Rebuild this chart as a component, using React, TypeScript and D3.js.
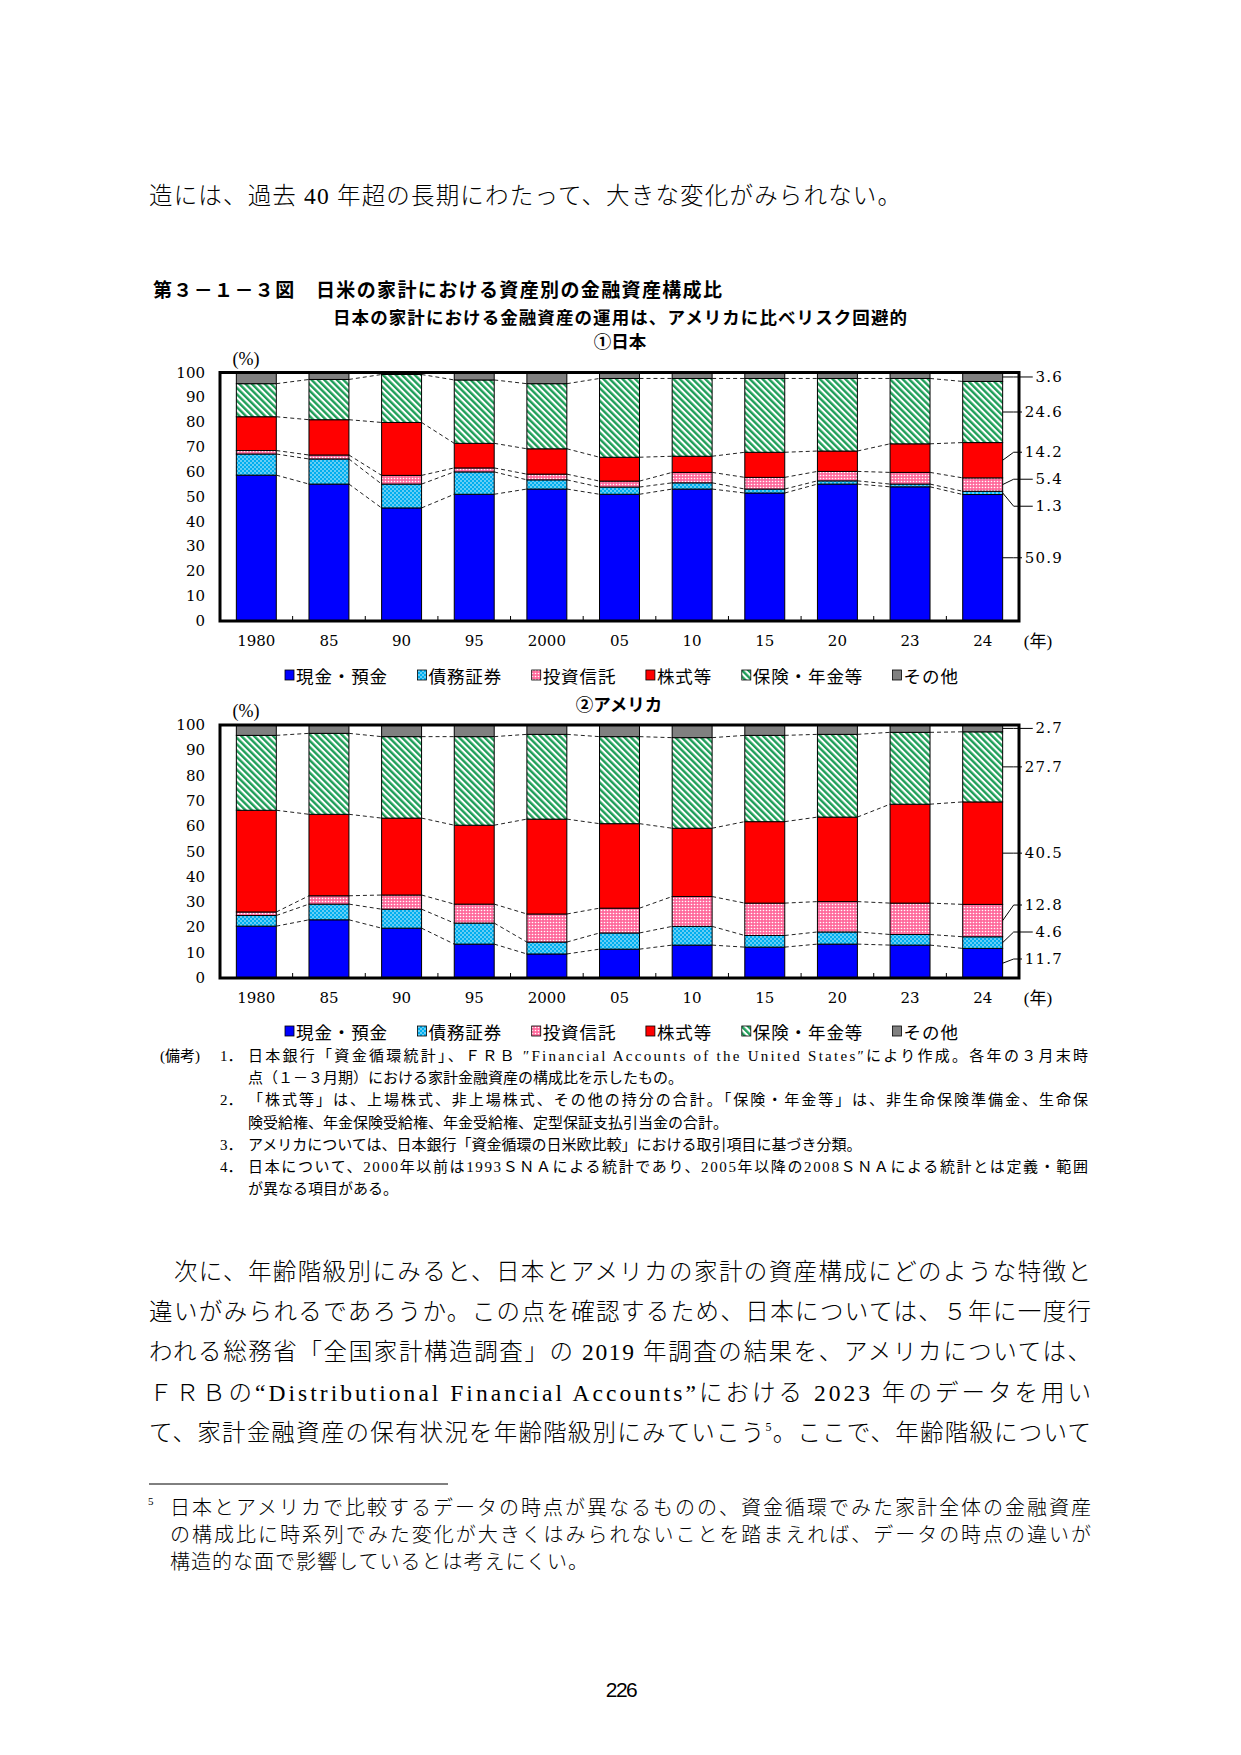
import React from "react";
import * as d3 from "d3";

// ---------- data ----------
const years = ["1980", "85", "90", "95", "2000", "05", "10", "15", "20", "23", "24"];
const seriesNames = ["現金・預金", "債務証券", "投資信託", "株式等", "保険・年金等", "その他"];
const yTicks = [0, 10, 20, 30, 40, 50, 60, 70, 80, 90, 100];

// Japan (%)
const jpCash = [58.7, 55.1, 45.5, 51.0, 53.1, 51.0, 53.1, 51.5, 55.1, 54.0, 50.9];
const jpBonds = [8.5, 10.1, 9.6, 9.0, 3.7, 2.9, 2.5, 1.6, 1.3, 1.1, 1.3];
const jpTrust = [1.4, 1.6, 3.5, 1.6, 2.3, 2.4, 4.2, 4.7, 3.8, 4.7, 5.4];
const jpStocks = [13.6, 14.2, 21.3, 9.9, 10.2, 9.6, 6.5, 10.1, 8.2, 11.5, 14.2];
const jpInsurance = [13.3, 16.2, 19.3, 25.5, 26.2, 31.7, 31.3, 29.7, 29.2, 26.3, 24.6];
const jpOther = [4.5, 2.8, 0.8, 3.0, 4.5, 2.4, 2.4, 2.4, 2.4, 2.4, 3.6];

// United States (%)
const usCash = [20.5, 23.0, 19.7, 13.4, 9.5, 11.4, 13.0, 12.2, 13.4, 13.0, 11.7];
const usBonds = [4.2, 6.2, 7.5, 8.3, 4.7, 6.4, 7.4, 4.6, 4.8, 4.2, 4.6];
const usTrust = [1.4, 3.3, 5.6, 7.5, 11.1, 9.8, 11.8, 12.8, 12.0, 12.4, 12.8];
const usStocks = [40.2, 32.2, 30.4, 31.2, 37.5, 33.4, 27.0, 32.2, 33.4, 39.1, 40.5];
const usInsurance = [29.6, 32.0, 32.2, 35.0, 33.5, 34.4, 35.8, 34.1, 32.7, 28.4, 27.7];
const usOther = [4.1, 3.3, 4.6, 4.6, 3.7, 4.6, 5.0, 4.1, 3.7, 2.9, 2.7];

const jpSeries = [jpCash, jpBonds, jpTrust, jpStocks, jpInsurance, jpOther];
const usSeries = [usCash, usBonds, usTrust, usStocks, usInsurance, usOther];

// ---------- text ----------
const topLine = "造には、過去 40 年超の長期にわたって、大きな変化がみられない。";
const figTitle = "第３－１－３図　日米の家計における資産別の金融資産構成比";
const figSubtitle = "日本の家計における金融資産の運用は、アメリカに比べリスク回避的";
const panelTitles = ["①日本", "②アメリカ"];
const notes = [
  { num: "1．", lines: ["日本銀行「資金循環統計」、ＦＲＢ ″Financial Accounts of the United States″により作成。各年の３月末時", "点（１－３月期）における家計金融資産の構成比を示したもの。"] },
  { num: "2．", lines: ["「株式等」は、上場株式、非上場株式、その他の持分の合計。「保険・年金等」は、非生命保険準備金、生命保", "険受給権、年金保険受給権、年金受給権、定型保証支払引当金の合計。"] },
  { num: "3．", lines: ["アメリカについては、日本銀行「資金循環の日米欧比較」における取引項目に基づき分類。"] },
  { num: "4．", lines: ["日本について、2000年以前は1993ＳＮＡによる統計であり、2005年以降の2008ＳＮＡによる統計とは定義・範囲", "が異なる項目がある。"] },
];
const bodyLines = [
  "　次に、年齢階級別にみると、日本とアメリカの家計の資産構成にどのような特徴と",
  "違いがみられるであろうか。この点を確認するため、日本については、５年に一度行",
  "われる総務省「全国家計構造調査」の 2019 年調査の結果を、アメリカについては、",
  "ＦＲＢの“Distributional Financial Accounts”における 2023 年のデータを用い",
];
const bodyLast = ["て、家計金融資産の保有状況を年齢階級別にみていこう", "5", "。ここで、年齢階級について"];
const footLines = [
  "日本とアメリカで比較するデータの時点が異なるものの、資金循環でみた家計全体の金融資産",
  "の構成比に時系列でみた変化が大きくはみられないことを踏まえれば、データの時点の違いが",
  "構造的な面で影響しているとは考えにくい。",
];

// ---------- style ----------
const JP = "'Noto Sans CJK JP', sans-serif";
const MIX = "'Liberation Serif', 'Noto Sans CJK JP', serif";
const NUM = "'DejaVu Serif', serif";
const fills = ["#0000FF", "url(#patBonds)", "url(#patTrust)", "#FF0000", "url(#patIns)", "#808080"];
const PX0 = 220;
const PX1 = 1019;

function spread(ys: number[], gap: number, lo: number, hi: number): number[] {
  const idx = ys.map((_, i) => i).sort((a, b) => ys[a] - ys[b]);
  const p = idx.map((i) => ys[i]);
  for (let it = 0; it < 400; it++) {
    let moved = false;
    for (let k = 1; k < p.length; k++) {
      const d = p[k] - p[k - 1];
      if (d < gap - 0.01) {
        const s = (gap - d) / 2;
        p[k - 1] -= s;
        p[k] += s;
        moved = true;
      }
    }
    for (let k = 0; k < p.length; k++) p[k] = Math.max(lo, Math.min(hi, p[k]));
    if (!moved) break;
  }
  const out: number[] = new Array(ys.length);
  idx.forEach((i, k) => (out[i] = p[k]));
  return out;
}

function Panel({ series, yTop, yBottom }: { series: number[][]; yTop: number; yBottom: number }) {
  const x = d3.scaleBand<string>().domain(years).range([PX0, PX1]).paddingInner(0.45).paddingOuter(0.225);
  const y = d3.scaleLinear().domain([0, 100]).range([yBottom, yTop]);
  const rows = years.map((yr, i) => ({ yr, vals: series.map((s) => s[i]) }));
  const stack = d3
    .stack<any, string>()
    .keys(seriesNames)
    .value((d: any, key: string) => d.vals[seriesNames.indexOf(key)]);
  const layers = stack(rows);
  const bw = x.bandwidth();
  const step = x.step();
  const last = years.length - 1;
  const lastX = (x(years[last]) as number) + bw;
  const mids = layers.map((l) => y((l[last][0] + l[last][1]) / 2));
  const labelYs = spread(mids, 27, yTop, yBottom - 19);
  const labelRight = 1063;

  return (
    <g>
      {layers.map((layer, k) => (
        <g key={k}>
          {layer.map((d, i) => (
            <rect
              key={i}
              x={x(years[i]) as number}
              y={y(d[1])}
              width={bw}
              height={Math.max(0, y(d[0]) - y(d[1]))}
              fill={fills[k]}
              stroke="#000"
              strokeWidth={1}
            />
          ))}
        </g>
      ))}
      {layers.slice(0, layers.length - 1).map((layer, k) => (
        <g key={"c" + k}>
          {layer.slice(0, last).map((d, i) => (
            <line
              key={i}
              x1={(x(years[i]) as number) + bw}
              y1={y(d[1])}
              x2={x(years[i + 1]) as number}
              y2={y(layer[i + 1][1])}
              stroke="#222"
              strokeWidth={1}
              strokeDasharray="4 3"
            />
          ))}
        </g>
      ))}
      {years.slice(1).map((yr) => {
        const tx = (x(yr) as number) - (step - bw) / 2;
        return <line key={yr} x1={tx} x2={tx} y1={yBottom} y2={yBottom - 5} stroke="#000" strokeWidth={1} />;
      })}
      <rect x={PX0} y={yTop} width={PX1 - PX0} height={yBottom - yTop} fill="none" stroke="#000" strokeWidth={3} />
      {yTicks.map((t) => (
        <text key={t} x={205} y={y(t)} textAnchor="end" dominantBaseline="central" fontFamily={NUM} fontSize={15}>
          {t}
        </text>
      ))}
      <text x={246} y={yTop - 14} textAnchor="middle" dominantBaseline="central" fontFamily={MIX} fontSize={18}>
        (%)
      </text>
      {years.map((yr) => (
        <text
          key={yr}
          x={(x(yr) as number) + bw / 2}
          y={yBottom + 20}
          textAnchor="middle"
          dominantBaseline="central"
          fontFamily={NUM}
          fontSize={15}
        >
          {yr}
        </text>
      ))}
      <text x={1038} y={yBottom + 20} textAnchor="middle" dominantBaseline="central" fontFamily={MIX} fontSize={17}>
        (年)
      </text>
      {layers.map((layer, k) => {
        const v = series[k][last];
        const s = v.toFixed(1);
        const w = (s.length - 1) * 9.54 + 4.77 + (s.length - 1) * 1.2;
        const endX = labelRight - w - 4;
        const ly = labelYs[k];
        return (
          <g key={"l" + k}>
            <path
              d={`M${lastX},${mids[k]} L${lastX + 11},${ly} L${endX},${ly}`}
              fill="none"
              stroke="#000"
              strokeWidth={1}
            />
            <text
              x={labelRight}
              y={ly}
              textAnchor="end"
              dominantBaseline="central"
              fontFamily={NUM}
              fontSize={15}
              letterSpacing={1.2}
            >
              {s}
            </text>
          </g>
        );
      })}
    </g>
  );
}

function Legend({ y }: { y: number }) {
  let cx = 285;
  const items = seriesNames.map((n, i) => {
    const it = { x: cx, n, i };
    cx += 12 + n.length * 18.3 + 29;
    return it;
  });
  return (
    <g>
      {items.map((it) => (
        <g key={it.n}>
          <rect x={it.x} y={y - 5} width={9} height={10} fill={fills[it.i]} stroke="#000" strokeWidth={0.8} />
          <text x={it.x + 11} y={y} dominantBaseline="central" fontFamily={JP} fontSize={17.5} letterSpacing={0.9}>
            {it.n}
          </text>
        </g>
      ))}
    </g>
  );
}

export default function App() {
  return (
    <svg
      width={1241}
      height={1755}
      xmlns="http://www.w3.org/2000/svg"
      style={{ position: "absolute", left: 0, top: 0, background: "#fff" }}
    >
      <defs>
        <pattern id="patBonds" patternUnits="userSpaceOnUse" width={4} height={4}>
          <rect width={4} height={4} fill="#00AEEF" />
          <circle cx={1} cy={1} r={0.75} fill="#fff" />
          <circle cx={3} cy={3} r={0.75} fill="#fff" />
        </pattern>
        <pattern id="patTrust" patternUnits="userSpaceOnUse" width={3} height={3}>
          <rect width={3} height={3} fill="#FF6A9C" />
          <circle cx={1.5} cy={1.5} r={0.8} fill="#fff" />
        </pattern>
        <pattern id="patIns" patternUnits="userSpaceOnUse" width={4.5} height={4.5} patternTransform="rotate(-45)">
          <rect width={4.5} height={4.5} fill="#fff" />
          <rect width={2.4} height={4.5} fill="#1E9E58" />
        </pattern>
      </defs>
      <rect width={1241} height={1755} fill="#fff" />

      <text x={149} y={204} fontFamily={MIX} fontSize={23.5} fontWeight={300} textLength={752} lengthAdjust="spacing">
        {topLine}
      </text>

      <text x={153} y={297} fontFamily={JP} fontSize={19} fontWeight={700} textLength={569} lengthAdjust="spacing">
        {figTitle}
      </text>
      <text x={333} y={323.5} fontFamily={JP} fontSize={17.5} fontWeight={700} textLength={574} lengthAdjust="spacing">
        {figSubtitle}
      </text>
      <text x={620} y={347.5} textAnchor="middle" fontFamily={JP} fontSize={17.5} fontWeight={700}>
        {panelTitles[0]}
      </text>

      <Panel series={jpSeries} yTop={372.5} yBottom={621} />
      <Legend y={675} />

      <text x={619} y={710.5} textAnchor="middle" fontFamily={JP} fontSize={17.5} fontWeight={700}>
        {panelTitles[1]}
      </text>
      <Panel series={usSeries} yTop={725} yBottom={978} />
      <Legend y={1031} />

      <text x={160} y={1061} fontFamily={MIX} fontSize={15}>
        (備考)
      </text>
      {(() => {
        let row = 0;
        const out: any[] = [];
        notes.forEach((n, ni) => {
          const by = 1061 + row * 22.2;
          out.push(
            <text key={"n" + ni} x={220} y={by} fontFamily={MIX} fontSize={15}>
              {n.num}
            </text>
          );
          n.lines.forEach((ln, li) => {
            const justify = li < n.lines.length - 1;
            out.push(
              <text
                key={"n" + ni + "_" + li}
                x={248}
                y={1061 + row * 22.2}
                fontFamily={MIX}
                fontSize={15}
                {...(justify ? { textLength: 840, lengthAdjust: "spacing" } : {})}
              >
                {ln}
              </text>
            );
            row++;
          });
        });
        return out;
      })()}

      {bodyLines.map((ln, i) => (
        <text
          key={"b" + i}
          x={149}
          y={1280 + i * 40.2}
          fontFamily={MIX}
          fontSize={23.5}
          fontWeight={300}
          textLength={942}
          lengthAdjust="spacing"
        >
          {ln}
        </text>
      ))}
      <text x={149} y={1280 + 4 * 40.2} fontFamily={MIX} fontSize={23.5} fontWeight={300} textLength={942} lengthAdjust="spacing">
        <tspan>{bodyLast[0]}</tspan>
        <tspan fontSize={12} dy={-10}>
          {bodyLast[1]}
        </tspan>
        <tspan dy={10}>{bodyLast[2]}</tspan>
      </text>

      <line x1={149} x2={448} y1={1484} y2={1484} stroke="#000" strokeWidth={1} />
      <text x={148} y={1505} fontFamily={MIX} fontSize={11}>
        5
      </text>
      {footLines.map((ln, i) => (
        <text
          key={"f" + i}
          x={170}
          y={1515 + i * 27}
          fontFamily={MIX}
          fontSize={20}
          fontWeight={300}
          {...(i < footLines.length - 1 ? { textLength: 921, lengthAdjust: "spacing" } : { letterSpacing: 1 })}
        >
          {ln}
        </text>
      ))}

      <text x={621} y={1697} textAnchor="middle" fontFamily="'Liberation Sans', sans-serif" fontSize={21} letterSpacing={-1.5}>
        226
      </text>
    </svg>
  );
}
